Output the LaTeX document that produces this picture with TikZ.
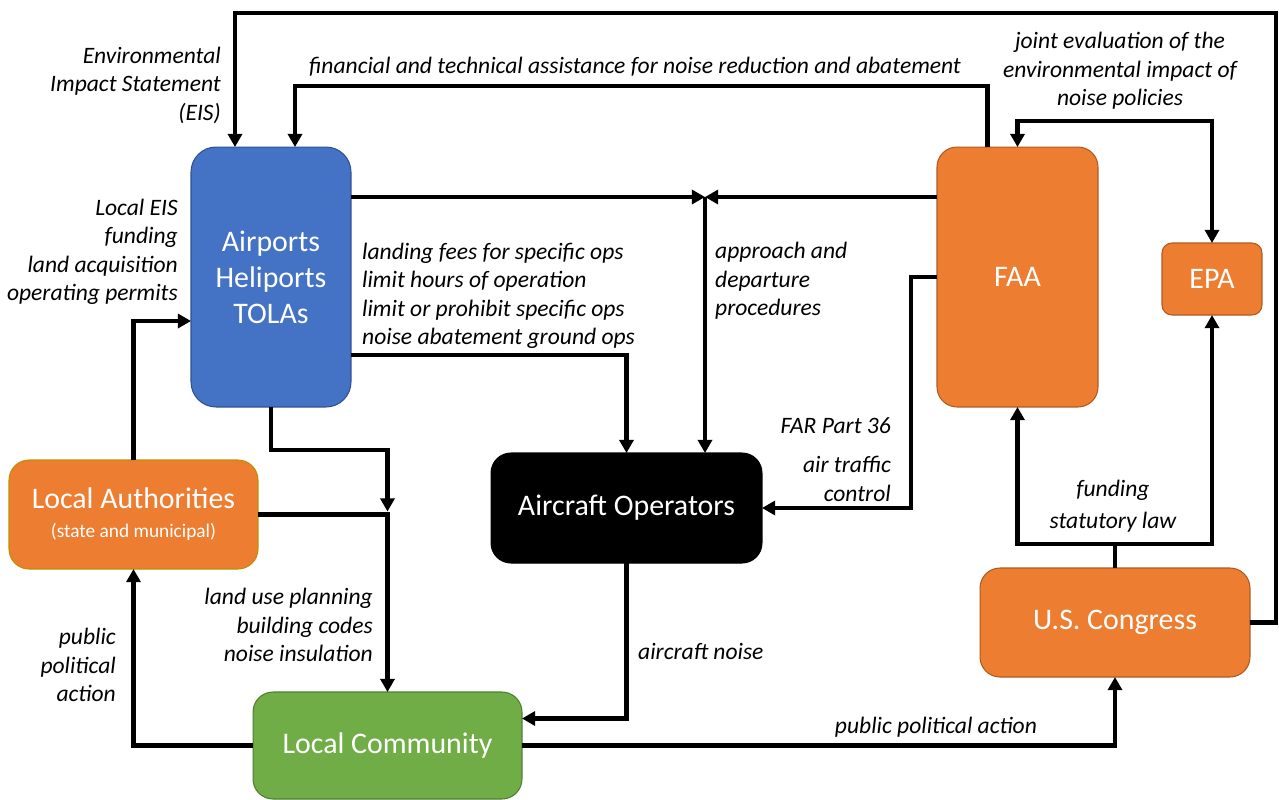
\documentclass[tikz,border=0pt]{standalone}
\usepackage{fontspec}
\setmainfont{Carlito}
\usepackage{tikz}
\usepackage{xcolor}
\usetikzlibrary{arrows.meta,calc}

\definecolor{apblue}{HTML}{4472C4}
\definecolor{apblueline}{HTML}{2F528F}
\definecolor{agorange}{HTML}{ED7D31}
\definecolor{agorangeline}{HTML}{AE5A21}
\definecolor{lagold}{HTML}{BF9000}
\definecolor{lcgreen}{HTML}{70AD47}
\definecolor{lcgreenline}{HTML}{507E32}

\begin{document}
\begin{tikzpicture}[x=0.02cm, y=-0.02cm,
          every node/.style={font=\fontsize{13.4}{16.2}\selectfont\itshape},
          box/.style={draw, line width=0.6pt, rounded corners=0.4cm, inner sep=0pt, outer sep=0pt, text=white, align=center, font=\fontsize{17}{20.4}\selectfont},
          airport/.style={box, fill=apblue, draw=apblueline, rounded corners=0.5cm, minimum width=3.2cm, minimum height=5.2cm},
          agency/.style={box, fill=agorange, draw=agorangeline},
          flow/.style={line width=2.3pt, -{Triangle[length=7.5pt,width=8pt]}},
          plain/.style={line width=2.3pt}
      ]
        \useasboundingbox (0,0) rectangle (1279,799);

        \node[airport] (airports) at (271,277) {Airports\\Heliports\\TOLAs};
        \node[agency, minimum width=3.22cm, minimum height=5.2cm] (faa) at (1017.5,277) {FAA};
        \node[agency, rounded corners=0.2cm, minimum width=2cm, minimum height=1.44cm] (epa) at (1212,279) {EPA};
        \node[agency, draw=lagold, minimum width=4.98cm, minimum height=2.18cm] (localauth) at (133.5,514.5) {Local Authorities\\[-4pt]{\fontsize{11}{13}\selectfont(state and municipal)}};
        \node[box, fill=black, minimum width=5.42cm, minimum height=2.2cm] (operators) at (626.5,508) {Aircraft Operators};
        \node[box, fill=lcgreen, draw=lcgreenline, minimum width=5.38cm, minimum height=2.14cm] (community) at (387.5,745.5) {Local Community};
        \node[agency, minimum width=5.4cm, minimum height=2.18cm] (congress) at (1115,622.5) {U.S. Congress};

        \coordinate (jct) at (705,197);
        \coordinate (lcj) at (387.5,514.5);
        \coordinate (cgj) at (1115,544);

        \draw[flow] (congress.east) -| (1276,13) -| ($(airports.north)+(-36,0)$);
        \draw[flow] ($(faa.north)+(-30,0)$) -- ++(0,-61) -| ($(airports.north)+(24,0)$);
        \draw[plain, {Triangle[length=7.5pt,width=8pt]}-{Triangle[length=7.5pt,width=8pt]}] (faa.north) -- ++(0,-26) -| (epa.north);

        \draw[flow] (airports.east |- jct) -- (jct);
        \draw[flow] (faa.west |- jct) -- (jct);
        \draw[flow] (jct) -- (operators.north -| jct);
        \draw[flow] ($(airports.south east)+(0,-52)$) -| (operators.north);
        \draw[flow] (faa.west) -- ++(-26,0) |- (operators.east);

        \draw[flow] (airports.south) -- ++(0,43) -| ($(lcj)+(0,-3)$);
        \draw[flow] (localauth.east) -| (community.north);
        \draw[flow] (localauth.north) |- ($(airports.west)+(0,44)$);
        \draw[flow] (community.west) -| (localauth.south);
        \draw[flow] (operators.south) |- ($(community.east)+(0,-27)$);
        \draw[flow] (community.east) -| (congress.south);

        \draw[plain] (congress.north) -- (cgj);
        \draw[flow] (cgj) -| (faa.south);
        \draw[flow] (cgj) -| (epa.south);

        \node[anchor=east, align=right] (eis) at (227,85) {Environmental\\Impact Statement\\(EIS)};
        \node (assist) at (635,67) {financial and technical assistance for noise reduction and abatement};
        \node[align=center] (joint) at (1120,71) {joint evaluation of the\\environmental impact of\\noise policies};
        \node[anchor=west, align=left] (approach) at (709,281) {approach and\\departure\\procedures};
        \node[anchor=west, align=left] (fees) at (356,296) {landing fees for specific ops\\limit hours of operation\\limit or prohibit specific ops\\noise abatement ground ops};
        \node[anchor=east] (far) at (897,426) {FAR Part 36};
        \node[anchor=east, align=right] (atc) at (897,479) {air traffic\\control};
        \node[anchor=east, align=right] (localeis) at (184,252) {Local EIS\\funding\\land acquisition\\operating permits};
        \node[anchor=east, align=right] (landuse) at (379,625) {land use planning\\building codes\\noise insulation};
        \node[anchor=east, align=right] (ppaleft) at (122,665) {public\\political\\action};
        \node[anchor=west] (noise) at (632,651) {aircraft noise};
        \node (ppabottom) at (936,727) {public political action};
        \node[align=center] (funding) at (1113,506) {funding\\[2pt]statutory law};
      \end{tikzpicture}
\end{document}
